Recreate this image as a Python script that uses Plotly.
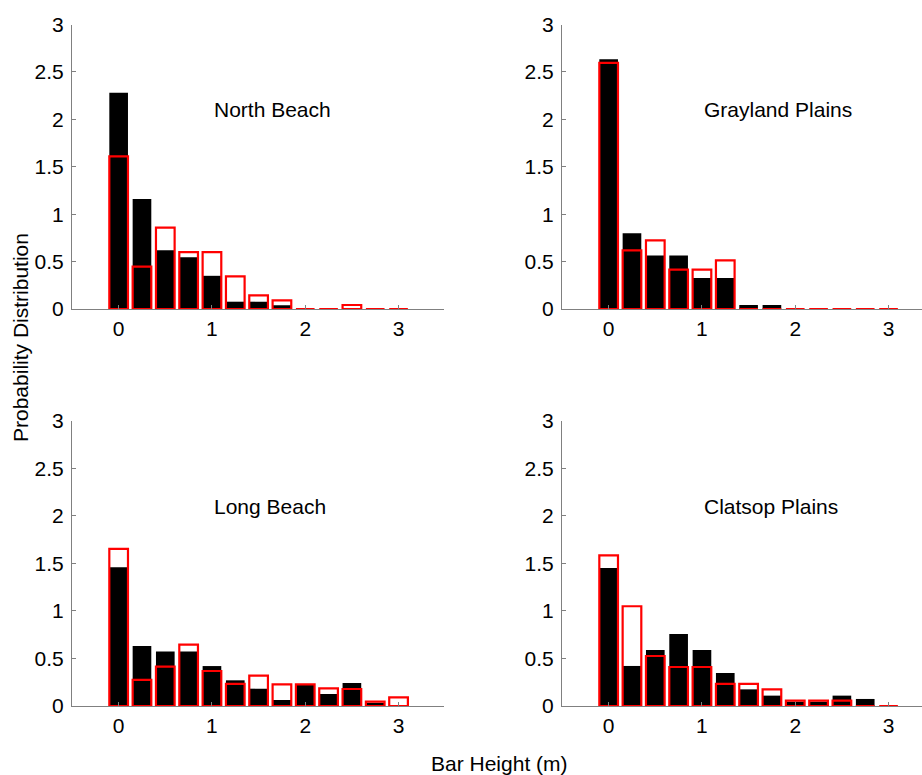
import plotly.graph_objects as go

# Bin centres of the bar-height histograms (m)
bin_centers = [0.0, 0.25, 0.5, 0.75, 1.0, 1.25, 1.5, 1.75, 2.0, 2.25, 2.5, 2.75, 3.0]

# Probability distributions: filled (black) vs outlined (red) series per site
north_beach_black = [2.28, 1.16, 0.62, 0.545, 0.35, 0.077, 0.077, 0.04, 0, 0, 0, 0, 0]
north_beach_red = [1.61, 0.447, 0.858, 0.6, 0.6, 0.345, 0.144, 0.09, 0, 0, 0.042, 0, 0]

grayland_black = [2.634, 0.798, 0.563, 0.563, 0.327, 0.327, 0.042, 0.042, 0, 0, 0, 0, 0]
grayland_red = [2.595, 0.619, 0.724, 0.415, 0.415, 0.513, 0, 0, 0, 0, 0, 0, 0]

long_beach_black = [1.46, 0.632, 0.572, 0.572, 0.42, 0.27, 0.182, 0.063, 0.22, 0.126, 0.242, 0.035, 0]
long_beach_red = [1.653, 0.274, 0.414, 0.646, 0.368, 0.232, 0.32, 0.228, 0.228, 0.186, 0.179, 0.046, 0.091]

clatsop_black = [1.45, 0.421, 0.59, 0.758, 0.59, 0.347, 0.175, 0.109, 0.046, 0.046, 0.109, 0.074, 0]
clatsop_red = [1.583, 1.049, 0.526, 0.41, 0.41, 0.232, 0.232, 0.175, 0.056, 0.056, 0.056, 0, 0]

site_names = ["North Beach", "Grayland Plains", "Long Beach", "Clatsop Plains"]
black_series = [north_beach_black, grayland_black, long_beach_black, clatsop_black]
red_series = [north_beach_red, grayland_red, long_beach_red, clatsop_red]

x_ticks = [0, 1, 2, 3]
y_ticks = [0, 0.5, 1, 1.5, 2, 2.5, 3]

W, H = 922, 775
FONT = "Liberation Sans, Arial, Helvetica, sans-serif"
AXIS_GREY = "#808080"
FS = 21

# panel geometry in pixels: (left, right, top, bottom) of each axes box
panels = [
    (72, 444.3, 24.5, 309),
    (562, 922, 24.5, 309),
    (72, 444.3, 420.7, 706),
    (562, 922, 420.7, 706),
]
UNIT_PX = 93.3  # pixels per metre on the x axes

fig = go.Figure()
layout = dict(
    width=W, height=H, autosize=False,
    margin=dict(l=0, r=0, t=0, b=0, pad=0, autoexpand=False),
    paper_bgcolor="white", plot_bgcolor="white",
    barmode="overlay", showlegend=False,
    font=dict(family=FONT, size=FS, color="black"),
    annotations=[],
)

for i, (name, blk, red) in enumerate(zip(site_names, black_series, red_series)):
    n = "" if i == 0 else str(i + 1)
    xa, ya = "x" + n, "y" + n
    left, right, top, bottom = panels[i]
    x_lo = -0.5
    x_hi = x_lo + (right - left) / UNIT_PX

    fig.add_trace(go.Bar(
        x=bin_centers, y=blk, width=0.2, xaxis=xa, yaxis=ya,
        marker=dict(color="black", line=dict(width=0)),
    ))
    fig.add_trace(go.Bar(
        x=bin_centers, y=red, width=0.2, xaxis=xa, yaxis=ya,
        marker=dict(color="rgba(0,0,0,0)", line=dict(color="#ff0000", width=2.2)),
    ))

    common = dict(
        showline=True, linecolor=AXIS_GREY, linewidth=1,
        ticks="inside", ticklen=4, tickcolor=AXIS_GREY, tickwidth=1,
        showgrid=False, zeroline=False, mirror=False, automargin=False,
        tickfont=dict(family=FONT, size=FS, color="black"),
    )
    layout["xaxis" + n] = dict(
        common, domain=[left / W, right / W], range=[x_lo, x_hi],
        tickmode="array", tickvals=x_ticks, ticktext=[str(t) for t in x_ticks],
        anchor=ya, ticklabelstandoff=1,
    )
    layout["yaxis" + n] = dict(
        common, domain=[1 - bottom / H, 1 - top / H], range=[0, 3],
        tickmode="array", tickvals=y_ticks, ticktext=["0", "0.5", "1", "1.5", "2", "2.5", "3"],
        anchor=xa, ticklabelstandoff=3,
    )
    layout["annotations"].append(dict(
        text=name, x=1.0, y=2.1, xref=xa, yref=ya,
        xanchor="left", yanchor="middle", showarrow=False,
        font=dict(family=FONT, size=FS, color="black"),
    ))

layout["annotations"].append(dict(
    text="Probability Distribution", x=20 / W, y=1 - 338 / H,
    xref="paper", yref="paper", textangle=-90,
    xanchor="center", yanchor="middle", showarrow=False,
    font=dict(family=FONT, size=FS, color="black"),
))
layout["annotations"].append(dict(
    text="Bar Height (m)", x=499.5 / W, y=1 - 763 / H,
    xref="paper", yref="paper",
    xanchor="center", yanchor="middle", showarrow=False,
    font=dict(family=FONT, size=FS, color="black"),
))

fig.update_layout(**layout)
fig.write_html("out.html")
